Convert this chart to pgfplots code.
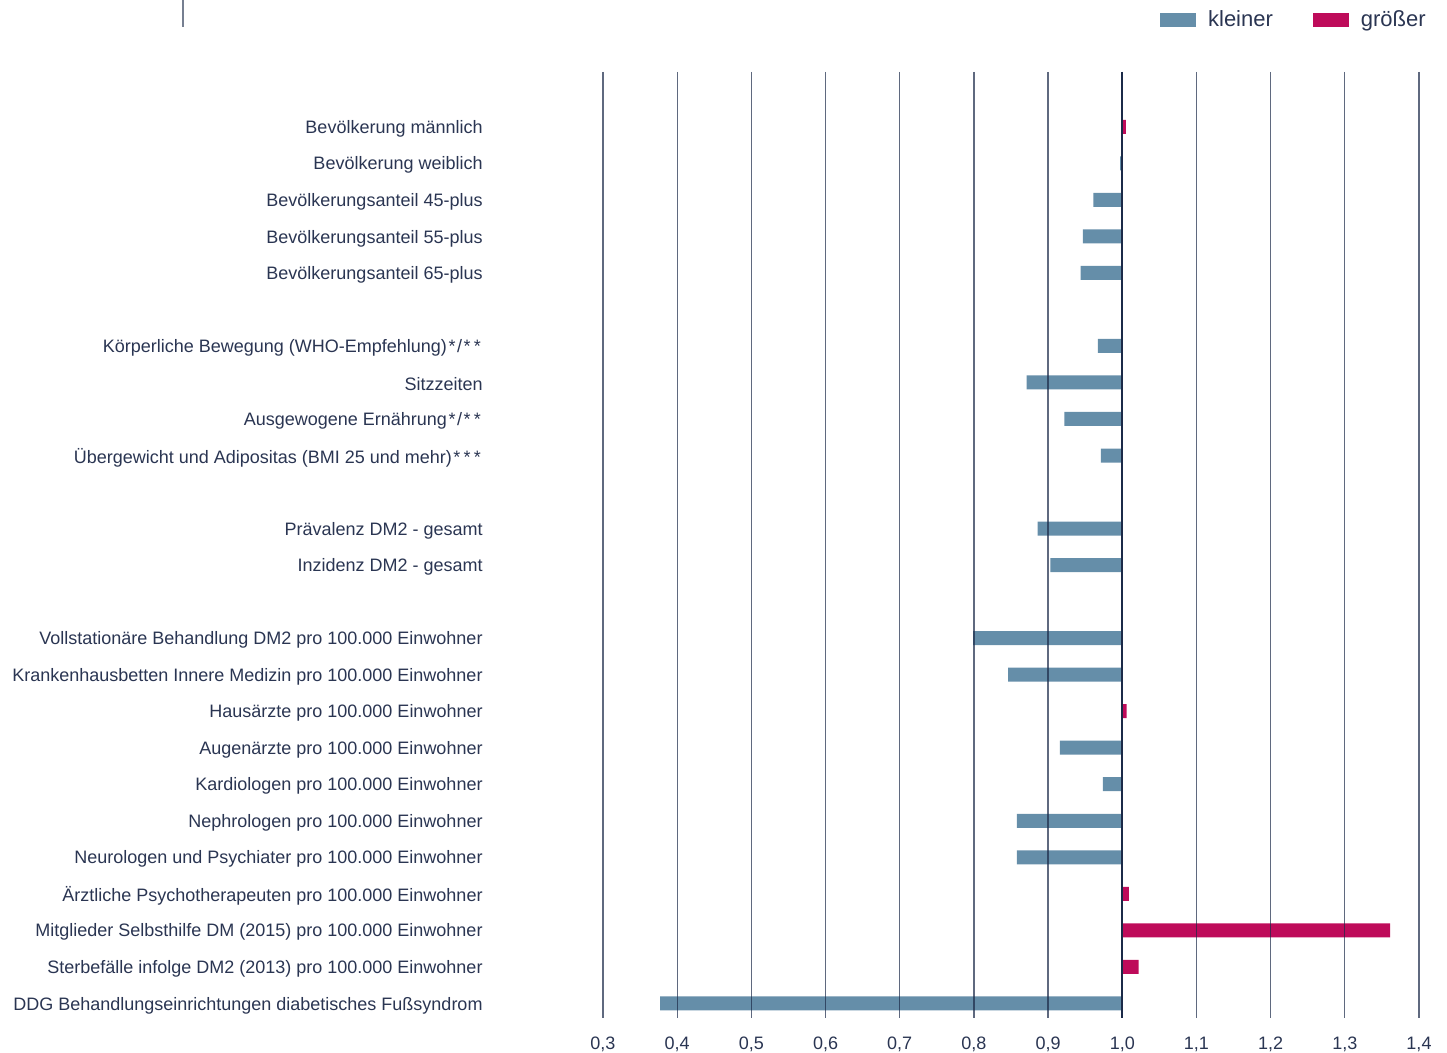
\documentclass[border=0pt]{standalone}
\usepackage{fontspec}
\setmainfont{Liberation Sans}
\usepackage{pgfplots}
\usepackage{pgfplotstable}
\pgfplotsset{compat=1.18}

\definecolor{kleinerblau}{HTML}{658EA9}
\definecolor{groessermag}{HTML}{BE0B5A}
\definecolor{navy}{HTML}{1B2A48}
\definecolor{textnavy}{HTML}{2A3552}

\newcommand{\st}{\kern0.8pt*\kern0.8pt}

% v = Verhaeltniswert, p = Zeile (von oben)
\pgfplotstableread{
v p
0.997 1
0.961 2
0.947 3
0.944 4
0.967 6
0.871 7
0.922 8
0.971 9
0.886 11
0.903 12
0.799 14
0.846 15
0.916 17
0.974 18
0.858 19
0.858 20
0.377 24
}\kleiner

\pgfplotstableread{
v p
1.005 0
1.006 16
1.009 21
1.361 22
1.022 23
}\groesser

\begin{document}
\begin{tikzpicture}
\useasboundingbox (-301.5pt,-17.5pt) rectangle (422pt,509pt);
\draw[color=navy!60, line width=0.8pt] (-210pt,509pt) -- (-210pt,495.5pt);
\begin{axis}[
    scale only axis,
    width=408pt, height=473pt,
    xmin=-0.7, xmax=0.4,
    ymin=-1.5, ymax=24.4,
    y dir=reverse,
    axis line style={draw=none},
    tick style={draw=none},
    xtick={-0.7,-0.6,-0.5,-0.4,-0.3,-0.2,-0.1,0,0.1,0.2,0.3,0.4},
    xticklabel={\pgfmathparse{\tick+1}\pgfmathprintnumber[fixed,fixed zerofill,precision=1,use comma,assume math mode=true]{\pgfmathresult}},
    xticklabel style={font=\fontsize{9}{11}\selectfont, text=textnavy, yshift=-6pt},
    ytick={0,1,2,3,4,6,7,8,9,11,12,14,15,16,17,18,19,20,21,22,23,24},
    yticklabels={
        Bevölkerung männlich,
        Bevölkerung weiblich,
        Bevölkerungsanteil 45-plus,
        Bevölkerungsanteil 55-plus,
        Bevölkerungsanteil 65-plus,
        Körperliche Bewegung (WHO-Empfehlung)\st/\st\st,
        Sitzzeiten,
        Ausgewogene Ernährung\st/\st\st,
        Übergewicht und Adipositas (BMI 25 und mehr)\st\st\st,
        Prävalenz DM2 - gesamt,
        Inzidenz DM2 - gesamt,
        Vollstationäre Behandlung DM2 pro 100.000 Einwohner,
        Krankenhausbetten Innere Medizin pro 100.000 Einwohner,
        Hausärzte pro 100.000 Einwohner,
        Augenärzte pro 100.000 Einwohner,
        Kardiologen pro 100.000 Einwohner,
        Nephrologen pro 100.000 Einwohner,
        Neurologen und Psychiater pro 100.000 Einwohner,
        Ärztliche Psychotherapeuten pro 100.000 Einwohner,
        Mitglieder Selbsthilfe DM (2015) pro 100.000 Einwohner,
        Sterbefälle infolge DM2 (2013) pro 100.000 Einwohner,
        DDG Behandlungseinrichtungen diabetisches Fußsyndrom},
    yticklabel style={font=\fontsize{9}{11}\selectfont, text=textnavy, inner sep=0pt, xshift=-60pt, yshift=-1pt},
    xmajorgrids=true,
    grid style={color=navy, opacity=0.7, line width=0.6pt},
    extra x ticks={0},
    extra x tick labels={},
    extra x tick style={grid style={color=navy, opacity=1, line width=1pt}},
    axis on top,
    legend style={draw=none, fill=none, at={(1.021,1.055)}, anchor=east,
        font=\fontsize{11}{13}\selectfont, text=textnavy,
        legend columns=2, column sep=0pt,
        /tikz/every odd column/.append style={column sep=4pt},
        /tikz/every even column/.append style={column sep=18pt}},
    legend cell align=left,
]
\addplot[xbar, bar shift=0pt, bar width=7pt, fill=kleinerblau, draw=none,
    legend image code/.code={\fill[kleinerblau] (0pt,-3.5pt) rectangle (18pt,3.5pt);}]
    table[x expr=\thisrow{v}-1, y=p]{\kleiner};
\addlegendentry{kleiner}
\addplot[xbar, bar shift=0pt, bar width=7pt, fill=groessermag, draw=none,
    legend image code/.code={\fill[groessermag] (0pt,-3.5pt) rectangle (18pt,3.5pt);}]
    table[x expr=\thisrow{v}-1, y=p]{\groesser};
\addlegendentry{größer}
\end{axis}
\end{tikzpicture}
\end{document}
